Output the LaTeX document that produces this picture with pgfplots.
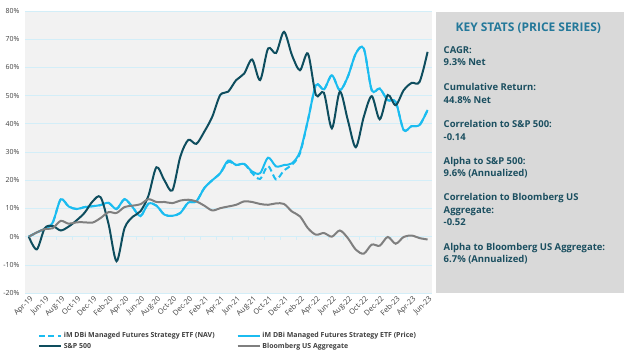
\documentclass[border=0pt]{standalone}
\usepackage{fontspec}
\setmainfont{Open Sans}
\usepackage{pgfplots}
\pgfplotsset{compat=1.18}
\usepackage{pgfplotstable}
\definecolor{spx}{HTML}{0E4D5E}
\definecolor{imblue}{HTML}{1BBCF0}
\definecolor{agg}{HTML}{7F7F7F}
\definecolor{gridc}{HTML}{D3EEF8}
\definecolor{plotbg}{HTML}{F2F2F2}
\definecolor{panel}{HTML}{D9D9D9}
\definecolor{paneltxt}{HTML}{1B4F60}
\definecolor{titletxt}{HTML}{23789A}
\definecolor{ticktxt}{HTML}{404040}

\pgfplotstableread{
i spx price nav agg
0 0 0 0 0
1 -4.5 1.5 1.5 1.5
2 3 2.8 2.8 2.7
3 3.8 5 5 3
4 2.2 13.2 13.2 5.6
5 3.6 10.7 10.7 4.6
6 5.8 9.8 9.8 5.1
7 8.5 10.5 10.5 5.1
8 12.5 10.8 10.8 5
9 14 11.2 11.2 6.6
10 4.5 12 12 8.7
11 -8.7 9.8 9.8 8.4
12 3 13.3 13.3 10.5
13 7 10.5 10.5 11
14 9 7.3 7.3 11.5
15 14.5 11.7 11.7 13.3
16 24.6 11 11 12.3
17 20 7.8 7.8 12.3
18 16.4 7.4 7.4 11.9
19 28.4 8.4 8.4 12.8
20 34.3 12.1 12.1 13.1
21 32.9 12.5 12.5 12.5
22 37.2 17.2 17.2 11
23 42.5 20 20 9.3
24 50.2 22.5 22.5 10.1
25 51.4 27 26.5 10.7
26 55.5 25.4 25.4 11.3
27 57.8 25.8 25.8 12.5
28 62.8 23.1 22.5 12.3
29 55.5 22.5 20.5 11.6
30 66.7 28 25 11.3
31 65.1 24.9 20.3 11.8
32 72.6 25.4 23.5 11.6
33 64.3 26 25.5 8.9
34 59 30.1 29.5 7.2
35 64.9 41.3 41.3 3
36 50.2 53.7 53.7 0.7
37 51 52.2 52.2 1.3
38 38.4 57.2 57.2 0
39 51.4 51.9 51.9 2.2
40 41.3 56.7 56.7 -0.5
41 31.7 64.9 64.9 -4.6
42 42.5 66.7 66.7 -6
43 49.8 51.9 51.9 -2.8
44 41.6 52.5 52.5 -3.2
45 50.2 48.4 48.4 -0.1
46 46.6 47.8 47.8 -2.5
47 51.9 37.8 37.8 -0.1
48 54.5 39.2 39.2 0.4
49 54.9 39.6 39.6 -0.5
50 65.5 44.9 44.9 -1
}\datatable

\begin{document}
\begin{tikzpicture}
\path (0pt,0pt) rectangle (624pt,356pt);
\begin{axis}[
  at={(23pt,62pt)}, anchor=south west,
  scale only axis, width=408pt, height=283pt,
  xmin=-0.5, xmax=50.5, ymin=-20, ymax=80,
  axis background/.style={fill=plotbg},
  axis line style={draw=none},
  major tick length=0pt,
  ytick={-20,-10,...,80},
  yticklabels={-20\%,-10\%,0\%,10\%,20\%,30\%,40\%,50\%,60\%,70\%,80\%},
  ymajorgrids, grid style={gridc, line width=0.7pt},
  xtick={0,2,...,50},
  xticklabels={Apr-19,Jun-19,Aug-19,Oct-19,Dec-19,Feb-20,Apr-20,Jun-20,Aug-20,Oct-20,Dec-20,Feb-21,Apr-21,Jun-21,Aug-21,Oct-21,Dec-21,Feb-22,Apr-22,Jun-22,Aug-22,Oct-22,Dec-22,Feb-23,Apr-23,Jun-23},
  yticklabel style={font=\fontsize{7}{8}\selectfont, text=ticktxt, xshift=-2pt},
  xticklabel style={font=\fontsize{7.5}{8.5}\selectfont, text=ticktxt, rotate=45, anchor=north east, inner sep=1pt, yshift=-1pt},
  legend columns=2,
  legend cell align=left,
  legend style={at={(0.0245,-0.124)}, anchor=north west, draw=none, fill=none,
    font=\bfseries\fontsize{7}{8.5}\selectfont, text=ticktxt,
    /tikz/every even column/.append style={column sep=20pt}},
  legend image code/.code={\draw[#1] (0pt,0pt) -- (22pt,0pt);},
]
\pgfplotsinvokeforeach{1.5,3.5,...,49.5}{\draw[gridc, line width=0.7pt] (axis cs:#1,0) -- ++(0pt,-3pt);}
\addplot[imblue, line width=2pt, dash pattern=on 6pt off 3.5pt, smooth, tension=0.5] table[x=i, y=nav] {\datatable};
\addlegendentry{iM DBi Managed Futures Strategy ETF (NAV)}
\addplot[imblue, line width=2pt, smooth, tension=0.5] table[x=i, y=price] {\datatable};
\addlegendentry{iM DBi Managed Futures Strategy ETF (Price)}
\addplot[spx, line width=2pt, smooth, tension=0.5] table[x=i, y=spx] {\datatable};
\addlegendentry{S\&P 500}
\addplot[agg, line width=2pt, smooth, tension=0.5] table[x=i, y=agg] {\datatable};
\addlegendentry{Bloomberg US Aggregate}
\end{axis}
\begin{scope}[x=1pt,y=1pt]
\fill[panel] (435,62) rectangle (624,344);
\node[text=titletxt, font=\bfseries\fontsize{12}{13.5}\selectfont, inner sep=0pt] at (528,328) {KEY STATS (PRICE SERIES)};
\begin{scope}[every node/.style={anchor=base west, inner sep=0pt, text=paneltxt, font=\bfseries\fontsize{9.5}{10.5}\selectfont}]
\node at (443,302.5) {CAGR:};
\node at (443,290.5) {9.3\% Net};
\node at (443,265.5) {Cumulative Return:};
\node at (443,252.5) {44.8\% Net};
\node at (443,228.5) {Correlation to S\&P 500:};
\node at (443,215.5) {-0.14};
\node at (443,190.5) {Alpha to S\&P 500:};
\node at (443,178.5) {9.6\% (Annualized)};
\node at (443,154.5) {Correlation to Bloomberg US};
\node at (443,141.5) {Aggregate:};
\node at (443,129.5) {-0.52};
\node at (443,104.5) {Alpha to Bloomberg US Aggregate:};
\node at (443,92.5) {6.7\% (Annualized)};
\end{scope}
\end{scope}
\end{tikzpicture}
\end{document}
